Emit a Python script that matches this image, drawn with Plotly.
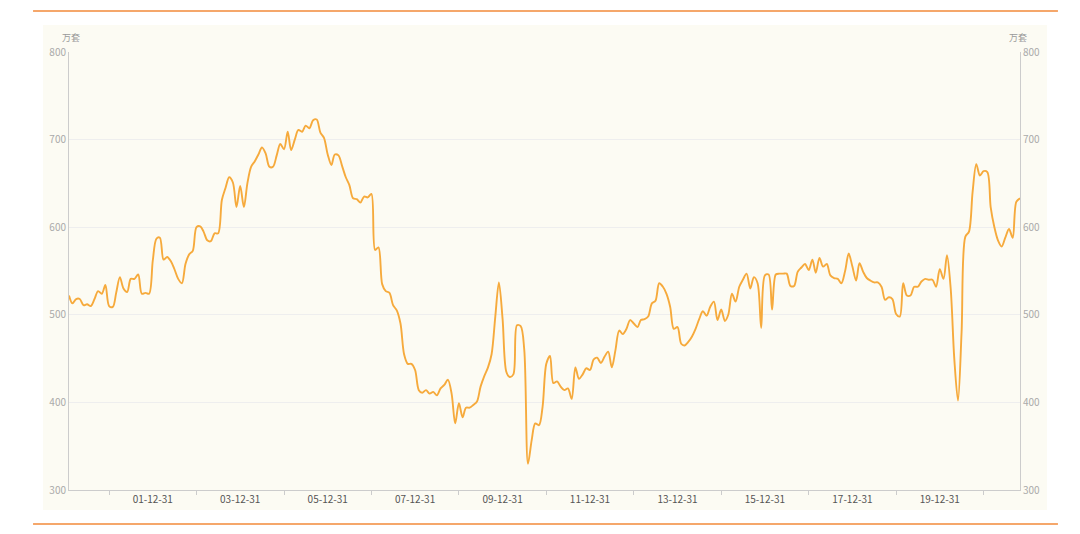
import pandas as pd
import plotly.graph_objects as go

# Monthly series, 2000-01 .. 2021-10 (万套)
values = [
    522, 513, 518, 518, 511, 512, 510, 518, 527, 524,
    534, 510, 509, 525, 543, 530, 526, 541, 541, 546,
    524, 525, 524, 562, 587, 588, 563, 566, 561, 552,
    541, 536, 558, 569, 573, 600, 601, 595, 585, 584,
    593, 593, 631, 645, 657, 651, 623, 647, 623, 650,
    669, 675, 683, 691, 684, 669, 669, 682, 695, 689,
    709, 688, 700, 711, 709, 716, 713, 722, 723, 708,
    702, 683, 671, 683, 682, 670, 657, 648, 633, 632,
    628, 635, 634, 638, 574, 577, 535, 527, 525, 511,
    505, 490, 455, 444, 444, 437, 414, 411, 414, 410,
    412, 408, 416, 420, 426, 410, 376, 399, 383, 394,
    394, 397, 401, 418, 430, 440, 455, 498, 537, 495,
    435, 429, 432, 488, 487, 460, 330, 357, 376, 374,
    395, 444, 453, 422, 424, 418, 414, 416, 404, 440,
    427, 432, 439, 437, 449, 451, 445, 452, 458, 440,
    460, 482, 478, 484, 494, 490, 486, 494, 495, 498,
    513, 516, 536, 532, 524, 509, 484, 486, 467, 465,
    469, 475, 484, 495, 504, 499, 509, 515, 494, 506,
    493, 500, 524, 515, 532, 540, 547, 530, 543, 536,
    485, 545, 546, 506, 546, 547, 547, 547, 533, 533,
    549, 554, 558, 551, 563, 548, 565, 555, 558, 545,
    542, 541, 536, 550, 570, 555, 539, 559, 549, 542,
    539, 537, 537, 532, 517, 520, 518, 501, 498, 536,
    522, 522, 532, 532, 538, 541, 540, 540, 532, 552,
    541, 568, 530, 450, 402, 480, 589, 595, 640, 672,
    659, 664, 663, 623, 600, 585, 578, 588, 598, 588,
    629, 633,
]
dates = pd.date_range("2000-01-01", periods=len(values), freq="MS") + pd.offsets.MonthEnd(0)

label_dates = ["2001-12-31", "2003-12-31", "2005-12-31", "2007-12-31", "2009-12-31",
               "2011-12-31", "2013-12-31", "2015-12-31", "2017-12-31", "2019-12-31"]
label_text = ["01-12-31", "03-12-31", "05-12-31", "07-12-31", "09-12-31",
              "11-12-31", "13-12-31", "15-12-31", "17-12-31", "19-12-31"]
tick_dates = ["2000-12-31", "2002-12-31", "2004-12-31", "2006-12-31", "2008-12-31",
              "2010-12-31", "2012-12-31", "2014-12-31", "2016-12-31", "2018-12-31",
              "2020-12-31"]
y_ticks = [300, 400, 500, 600, 700, 800]
unit = "万套"

LINE = "#F6AA3C"
ORANGE = "#F28A3A"
CREAM = "#FCFBF3"
AXIS = "#CCCCCC"
GRID = "#EEEEEE"
FONT = "Noto Sans CJK SC"

fig = go.Figure()
fig.add_trace(go.Scatter(
    x=dates, y=values, mode="lines",
    line=dict(color=LINE, width=1.9, shape="spline", smoothing=0.9),
    hoverinfo="x+y", showlegend=False,
))
fig.add_trace(go.Scatter(
    x=dates, y=values, mode="lines", yaxis="y2",
    line=dict(color="rgba(0,0,0,0)", width=0),
    hoverinfo="skip", showlegend=False,
))

# panel background and orange rules (paper coords relative to plot area)
fig.add_shape(type="rect", xref="paper", yref="paper",
              x0=-0.0273, x1=1.0284, y0=-0.0457, y1=1.0616,
              fillcolor=CREAM, line=dict(width=0), layer="below")
for yy in (1.0936, -0.0776):
    fig.add_shape(type="line", xref="paper", yref="paper",
                  x0=-0.0378, x1=1.0399, y0=yy, y1=yy,
                  line=dict(color=ORANGE, width=1.5))

fig.add_annotation(text=unit, xref="paper", yref="paper", x=0.002, y=1.0, yshift=6,
                   xanchor="center", yanchor="bottom", showarrow=False,
                   font=dict(family=FONT, size=9, color="#999999"))
fig.add_annotation(text=unit, xref="paper", yref="paper", x=0.998, y=1.0, yshift=6,
                   xanchor="center", yanchor="bottom", showarrow=False,
                   font=dict(family=FONT, size=9, color="#999999"))

fig.update_layout(
    width=1080, height=534,
    margin=dict(l=61, r=68, t=44, b=52),
    paper_bgcolor="white", plot_bgcolor=CREAM,
    font=dict(family=FONT, size=10, color="#999999"),
    xaxis=dict(
        type="date", range=[dates[0], dates[-1]],
        tickmode="array", tickvals=label_dates, ticktext=label_text,
        ticks="", showgrid=False, zeroline=False,
        showline=True, linecolor=AXIS, linewidth=1,
        tickfont=dict(family=FONT, size=10, color="#555555"),
        minor=dict(tickmode="array", tickvals=tick_dates, ticks="outside",
                   ticklen=4, tickcolor=AXIS, tickwidth=1, showgrid=False),
    ),
    yaxis=dict(
        range=[300, 800], tickmode="array", tickvals=y_ticks,
        showgrid=True, gridcolor=GRID, gridwidth=1, zeroline=False,
        showline=True, linecolor=AXIS, linewidth=1, ticks="",
        tickfont=dict(family=FONT, size=10, color="#AAAAAA"),
    ),
    yaxis2=dict(
        range=[300, 800], tickmode="array", tickvals=y_ticks,
        overlaying="y", side="right", showgrid=False, zeroline=False,
        showline=True, linecolor=AXIS, linewidth=1, ticks="",
        tickfont=dict(family=FONT, size=10, color="#AAAAAA"),
    ),
)

fig.write_html("out.html")
